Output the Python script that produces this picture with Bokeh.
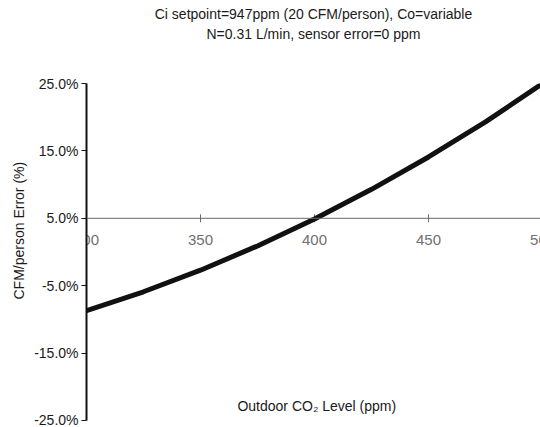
import numpy as np
from bokeh.plotting import figure
from bokeh.models import Range1d, Label, PrintfTickFormatter, FixedTicker, Span, Title
from bokeh.core.properties import value
from bokeh.embed import file_html
from bokeh.resources import INLINE

# ---- data ----
co2_outdoor = [300, 325, 350, 375, 400, 425, 450, 475, 500]
cfm_error = [-8.7, -5.9, -2.7, 0.9, 4.9, 9.3, 14.1, 19.3, 25.0]
y_ticks = [-25, -15, -5, 5, 15, 25]
x_ticks = [300, 350, 400, 450, 500]
x_tick_labels = ["300", "350", "400", "450", "500"]
x_axis_cross = 5.0

title_lines = ["Ci setpoint=947ppm (20 CFM/person), Co=variable",
               "N=0.31 L/min, sensor error=0 ppm"]
x_label = "Outdoor CO\u2082 Level (ppm)"
y_label = "CFM/person Error (%)"

FONT = "Liberation Sans"

p = figure(width=540, height=427, output_backend="svg", toolbar_location=None,
           x_range=Range1d(300, 499.1), y_range=Range1d(-25, 25),
           x_axis_location=None, min_border_left=86, min_border_right=0,
           min_border_top=83, min_border_bottom=7)
p.outline_line_color = None
p.grid.visible = False
p.background_fill_color = "white"
p.border_fill_color = "white"

yaxis = p.yaxis[0]
yaxis.ticker = FixedTicker(ticks=y_ticks)
yaxis.formatter = PrintfTickFormatter(format="%.1f%%")
yaxis.axis_line_width = 2
yaxis.axis_line_color = "#111111"
yaxis.major_tick_out = 5
yaxis.major_tick_in = 0
yaxis.major_tick_line_color = "#111111"
yaxis.minor_tick_line_color = None
yaxis.major_label_text_font = FONT
yaxis.major_label_text_font_size = "14px"
yaxis.major_label_text_color = "#1a1a1a"
yaxis.major_label_standoff = 3

# y-axis title (outside the axis)
p.add_layout(Title(text=y_label, align="left", offset=121, standoff=10,
                   text_font=FONT, text_font_size="14px", text_font_style="normal",
                   text_color="#1a1a1a"), "left")

# chart titles: empty spacer nearest the plot, then line 2, then line 1
p.add_layout(Title(text=" ", standoff=24, text_font=FONT,
                   text_font_size="12.5px"), "above")
p.add_layout(Title(text=title_lines[1], align="center", offset=-15, standoff=3,
                   text_font=FONT, text_font_size="14px", text_font_style="normal",
                   text_color="#1a1a1a"), "above")
p.add_layout(Title(text=title_lines[0], align="center", offset=-15, standoff=2,
                   text_font=FONT, text_font_size="14px", text_font_style="normal",
                   text_color="#1a1a1a"), "above")

# horizontal axis line crossing inside the plot
p.add_layout(Span(location=x_axis_cross, dimension="width",
                  line_color="#6a6a6a", line_width=1))
p.scatter(x=x_ticks, y=[x_axis_cross] * len(x_ticks), marker="dash",
          angle=np.pi / 2, size=8, line_color="#6a6a6a", line_width=1)
p.text(x=x_ticks, y=[x_axis_cross] * len(x_ticks), text=x_tick_labels,
       text_font=value(FONT), text_font_size="15px", text_color="#707070",
       text_align="center", text_baseline="top", y_offset=17)

# data curve
p.line(co2_outdoor, cfm_error, line_width=5, line_color="#111111",
       line_join="round", line_cap="round")

# x-axis title inside the plot area
p.add_layout(Label(x=401, y=-22.8, text=x_label, text_font=FONT,
                   text_font_size="14px", text_color="#1a1a1a",
                   text_align="center", text_baseline="middle"))

open("out.html", "w").write(file_html(p, INLINE))
